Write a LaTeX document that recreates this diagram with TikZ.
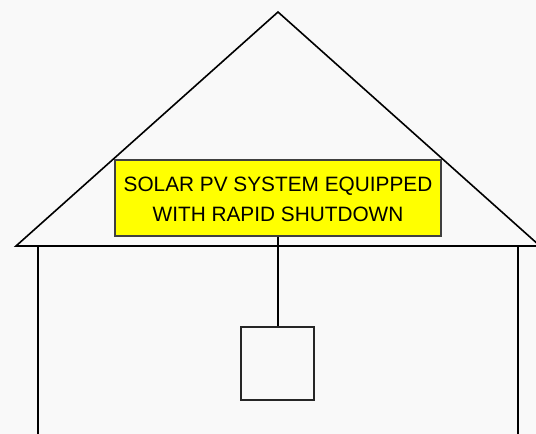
\documentclass[tikz,border=0pt]{standalone}
\usepackage{fontspec}
\setmainfont{Liberation Sans}
\begin{document}
\begin{tikzpicture}[x=1pt,y=-1pt,
  wall/.style={draw=black,line width=1.6pt},
  label/.style={draw=black!75,line width=1.1pt,fill={rgb,255:red,255;green,255;blue,0},minimum width=326pt,minimum height=76pt,inner sep=0pt},
  signtext/.style={inner sep=0pt,align=center,font=\fontsize{20.8pt}{30pt}\selectfont},
  boxsq/.style={draw=black!85,line width=1.6pt,minimum width=73pt,minimum height=73pt,inner sep=0pt}]
\fill[fill={rgb,255:red,249;green,249;blue,249}] (0,0) rectangle (536,434);
\useasboundingbox (0,0) rectangle (536,434);
\coordinate (apex) at (278,12);
\coordinate (roofL) at (16,246);
\coordinate (roofR) at (540,246);
\coordinate (wallLt) at (38,246);
\coordinate (wallLb) at (38,436);
\coordinate (wallRt) at (518,246);
\coordinate (wallRb) at (518,436);
\draw[wall] (roofL) -- (apex) -- (roofR) -- cycle;
\draw[wall] (wallLt) -- (wallLb);
\draw[wall] (wallRt) -- (wallRb);
\node[label] (sign) at (278,198) {};
\node[signtext] (signtxt) at (278,199.5) {SOLAR PV SYSTEM EQUIPPED\\WITH RAPID SHUTDOWN};
\node[boxsq] (sw) at (277.5,363.5) {};
\draw[wall] (sign.south) -- (sign.south |- sw.north);
\end{tikzpicture}
\end{document}
